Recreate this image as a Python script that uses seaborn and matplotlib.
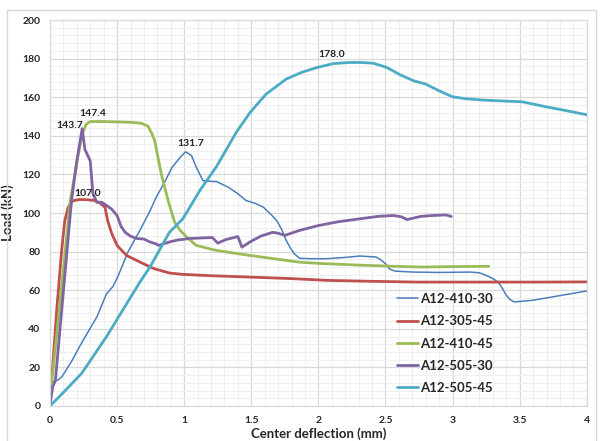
import pandas as pd
import matplotlib.pyplot as plt
from matplotlib.patches import Rectangle
from matplotlib.ticker import MultipleLocator, FuncFormatter
import seaborn as sns

# Données (flèche au centre en mm, charge en kN)
d_410_30 = [0, 0.01, 0.025, 0.06, 0.09, 0.12, 0.16, 0.22, 0.28, 0.35, 0.42, 0.47, 0.51, 0.58,
            0.67, 0.745, 0.79, 0.86, 0.91, 0.97, 1.01, 1.055, 1.09, 1.14, 1.18, 1.24, 1.33,
            1.40, 1.46, 1.53, 1.59, 1.65, 1.69, 1.73, 1.76, 1.79, 1.82, 1.86, 1.95, 2.06, 2.2,
            2.31, 2.43, 2.46, 2.5, 2.53, 2.57, 2.7, 2.9, 3.13, 3.2, 3.25, 3.3, 3.34, 3.37,
            3.40, 3.43, 3.46, 3.6, 3.8, 4.0]
L_410_30 = [0, 8, 12.6, 13.5, 15.2, 18.6, 23, 30.7, 38, 46.2, 58, 62, 67.7, 79.7,
            91, 101, 108, 116.8, 123.7, 128.8, 131.7, 129.7, 123.7, 116.8, 116.5, 116.3, 113.3,
            110, 106.5, 105, 103, 99, 96, 91, 85.8, 82, 78.9, 76.5, 76.3, 76.3, 77,
            77.7, 77.2, 76, 73.7, 71, 69.9, 69.4, 69.2, 69.4, 69, 67.7, 66, 64.2, 61,
            57.4, 55, 53.9, 54.8, 57.2, 59.6]

d_305_45 = [0, 0.005, 0.02, 0.05, 0.087, 0.11, 0.136, 0.17, 0.22, 0.27, 0.33, 0.37, 0.41,
            0.43, 0.46, 0.50, 0.57, 0.67, 0.77, 0.89, 0.99, 1.2, 1.49, 1.8, 2.06, 2.4, 2.75,
            3.2, 3.6, 4.0]
L_305_45 = [0, 15, 20, 49.6, 80.6, 96, 103, 106.3, 107.0, 106.9, 106.5, 105.3, 103,
            96, 89.4, 83.2, 78, 74.6, 71.3, 68.9, 68.2, 67.5, 66.8, 66, 65.1, 64.6, 64.2,
            64.2, 64.2, 64.3]

d_410_45 = [0, 0.01, 0.05, 0.1, 0.15, 0.18, 0.21, 0.24, 0.27, 0.30, 0.4, 0.5, 0.6, 0.68,
            0.73, 0.76, 0.78, 0.83, 0.88, 0.93, 0.97, 1.02, 1.09, 1.24, 1.49, 1.86, 2.0, 2.3,
            2.56, 2.76, 3.0, 3.27]
L_410_45 = [0, 10, 37, 71, 106, 118, 130, 141, 146, 147.4, 147.4, 147.2, 147, 146.5,
            145, 141, 137.5, 120, 106.5, 95, 91, 87.5, 83.2, 80.6, 78, 74.5, 73.9, 73,
            72.4, 72, 72.2, 72.4]

d_505_30 = [0, 0.02, 0.04, 0.08, 0.12, 0.16, 0.2, 0.24, 0.26, 0.28, 0.30, 0.32, 0.35, 0.385,
            0.42, 0.46, 0.50, 0.53, 0.56, 0.6, 0.645, 0.7, 0.745, 0.79, 0.81, 0.89, 0.95,
            1.04, 1.21, 1.25, 1.31, 1.40, 1.43, 1.49, 1.57, 1.66, 1.70, 1.75, 1.86, 2.0,
            2.15, 2.31, 2.45, 2.56, 2.62, 2.66, 2.76, 2.85, 2.95, 2.99]
L_505_30 = [0, 10, 13, 44, 75, 106, 127, 143.7, 133, 130, 127, 110, 105.5, 105.6,
            104, 102, 98.7, 93, 90, 88, 86.8, 86.5, 85, 84, 83.2, 85, 86,
            86.8, 87.3, 84.4, 86.2, 87.8, 82.3, 85, 88, 90, 89.5, 88.4, 91, 93.5,
            95.5, 97, 98.3, 98.7, 98, 96.6, 98.2, 98.7, 99, 98.2]

d_505_45 = [0, 0.1, 0.2, 0.236, 0.42, 0.67, 0.745, 0.89, 0.99, 1.12, 1.24, 1.39, 1.49, 1.61,
            1.76, 1.88, 1.99, 2.11, 2.23, 2.32, 2.41, 2.51, 2.61, 2.71, 2.80, 2.90, 3.0,
            3.1, 3.23, 3.52, 3.70, 3.85, 4.0]
L_505_45 = [0, 7, 14.3, 16.9, 35.8, 64.2, 72, 90, 97, 112, 124, 142, 152, 161.6,
            169.4, 173, 175.4, 177.4, 178.0, 178.0, 177.6, 175.4, 171.6, 168.5, 166.8, 163.3, 160.2,
            159.2, 158.5, 157.6, 155, 153, 150.9]

series = [
    ("A12-410-30", d_410_30, L_410_30),
    ("A12-305-45", d_305_45, L_305_45),
    ("A12-410-45", d_410_45, L_410_45),
    ("A12-505-30", d_505_30, L_505_30),
    ("A12-505-45", d_505_45, L_505_45),
]

frames = [pd.DataFrame({'Deflection': d, 'Load': L, 'Specimen': nom}) for nom, d, L in series]
df = pd.concat(frames, ignore_index=True)

couleurs = {"A12-410-30": "#4A7EBB", "A12-305-45": "#C0504D", "A12-410-45": "#9BBB59",
            "A12-505-30": "#8064A2", "A12-505-45": "#4BACC6"}
epaisseurs = {"A12-410-30": 1.1, "A12-305-45": 2.0, "A12-410-45": 2.0,
              "A12-505-30": 2.0, "A12-505-45": 2.0}
# décalage des étiquettes de pic (points)
decalages = {"A12-410-30": (4, 6), "A12-305-45": (6, 4), "A12-410-45": (2, 6),
             "A12-505-30": (-9, 2), "A12-505-45": (-13, 5.5)}

sns.set_style("whitegrid")
plt.rcParams['font.family'] = ['Lato', 'DejaVu Sans']

fig, ax = plt.subplots(figsize=(6, 4.41), dpi=100)
fig.subplots_adjust(left=0.0833, right=0.978, bottom=0.0794, top=0.9546)

for nom, d, L in series:
    sub = df[df['Specimen'] == nom]
    sns.lineplot(data=sub, x='Deflection', y='Load', color=couleurs[nom], lw=epaisseurs[nom],
                 label=nom, sort=False, estimator=None, ax=ax)

# étiquettes de pic
for nom, d, L in series:
    sub = df[df['Specimen'] == nom]
    i = sub['Load'].idxmax()
    ax.annotate(f"{sub.loc[i, 'Load']:.1f}", xy=(sub.loc[i, 'Deflection'], sub.loc[i, 'Load']),
                xytext=decalages[nom], textcoords='offset points', ha='center', va='center',
                fontsize=7.5, fontweight='bold', color='#222222')

ax.set_xlim(0, 4)
ax.set_ylim(0, 200)
ax.xaxis.set_major_locator(MultipleLocator(0.5))
ax.xaxis.set_minor_locator(MultipleLocator(0.1))
ax.yaxis.set_major_locator(MultipleLocator(20))
ax.yaxis.set_minor_locator(MultipleLocator(4))
ax.xaxis.set_major_formatter(FuncFormatter(lambda v, p: f"{v:g}"))
ax.grid(which='major', color='#d9d9d9', lw=0.9)
ax.grid(which='minor', color='#efefef', lw=0.8)
ax.set_axisbelow(True)
for s in ax.spines.values():
    s.set_color('#d9d9d9')
    s.set_linewidth(0.9)
ax.tick_params(which='both', length=0, labelsize=7.5, pad=7)
for lab in ax.get_xticklabels() + ax.get_yticklabels():
    lab.set_fontweight('bold')

ax.set_xlabel("Center deflection (mm)", fontsize=9.5, fontweight='bold', labelpad=2)
ax.set_ylabel("Load (kN)", fontsize=9.5, fontweight='bold', labelpad=6)

ax.legend(loc='lower left', bbox_to_anchor=(0.625, 0.0), frameon=False,
          prop={'weight': 'bold', 'size': 9.5}, handlelength=1.6, handletextpad=0.1,
          labelspacing=0.78)

# cadre gris de la zone de graphique
fig.patches.append(Rectangle((7 / 600, -0.01), 589 / 600, 1 - 10 / 441 + 0.01,
                             transform=fig.transFigure, fill=False, edgecolor='#d9d9d9', lw=1))

fig.savefig("out.png", dpi=100)
